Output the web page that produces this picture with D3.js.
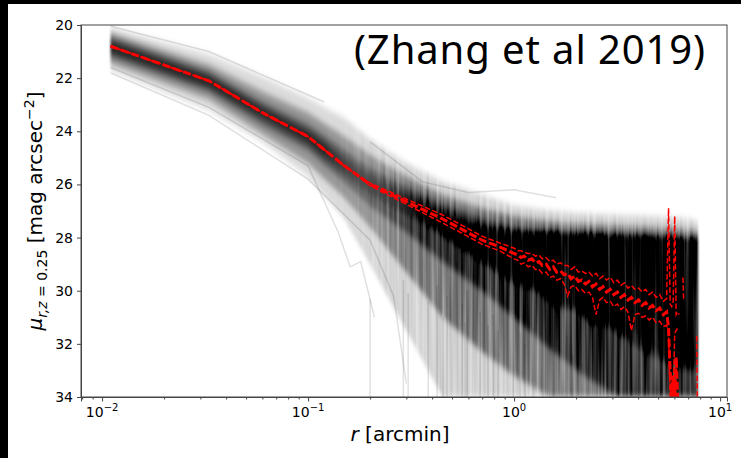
<!DOCTYPE html>
<html>
<head>
<meta charset="utf-8">
<script src="https://cdn.jsdelivr.net/npm/d3@7"></script>
<style>
	body { margin: 0; background: #fff; }
	svg text { font-family: "DejaVu Sans", sans-serif; fill: #000; }
</style>
</head>
<body>
<div id="chart"></div>
<script>

let bandR  = [0.011, 0.033, 0.06, 0.1, 0.15, 0.2, 0.3, 0.45, 0.7, 1.0, 1.5, 2.2, 3.2, 4.5, 6.0, 7.0, 7.8];
// surface brightness of the profiles at those radii (outer envelope and quantiles)
let muMin  = [20.1, 21.1, 21.95, 22.75, 23.5, 24.3, 25.2, 25.9, 26.4, 26.8, 27.0, 27.1, 27.15, 27.2, 27.25, 27.3, 27.4];
let muMax  = [21.7, 23.2, 24.4, 25.7, 27.3, 29.0, 31.5, 34.0, 34.0, 34.0, 34.0, 34.0, 34.0, 34.0, 34.0, 34.0, 34.0];
let muP05  = [20.3, 21.5, 22.5, 23.3, 24.2, 24.9, 25.7, 26.4, 26.9, 27.2, 27.4, 27.5, 27.55, 27.6, 27.65, 27.7, 27.75];
let muP95  = [21.45, 22.8, 24.1, 25.2, 26.5, 27.6, 29.3, 31.0, 32.3, 33.2, 34.0, 34.0, 34.0, 34.0, 34.0, 34.0, 34.0];
let muP16  = [20.45, 21.75, 22.9, 23.75, 24.7, 25.4, 26.1, 26.75, 27.3, 27.6, 27.75, 27.8, 27.85, 27.9, 27.95, 28.0, 28.0];
let muP84  = [21.2, 22.5, 23.75, 24.7, 25.9, 26.8, 27.8, 28.9, 30.0, 31.0, 32.2, 33.2, 34.0, 34.0, 34.0, 34.0, 34.0];
let muP30  = [20.6, 21.9, 23.1, 24.0, 25.0, 25.7, 26.4, 27.0, 27.65, 28.05, 28.3, 28.45, 28.55, 28.6, 28.65, 28.7, 28.8];
let muP70  = [21.05, 22.35, 23.5, 24.45, 25.6, 26.35, 27.1, 27.85, 28.7, 29.4, 30.1, 30.8, 31.6, 32.4, 32.8, 33.0, 33.0];
// crowded part at large radii where the profiles pile up to black
let coreR   = [0.3, 0.45, 0.7, 1.0, 1.3, 1.6, 2.0, 2.4, 2.8, 3.3, 3.8, 4.3, 4.9, 5.5, 6.2, 7.0, 7.8];
let coreTop = [26.7, 27.3, 27.6, 27.8, 27.8, 27.8, 27.85, 27.85, 27.9, 27.9, 27.9, 27.9, 27.95, 27.95, 28.0, 28.0, 28.0];
let coreBot = [26.7, 27.9, 28.9, 29.7, 30.0, 30.6, 30.7, 31.3, 31.0, 31.7, 31.4, 32.1, 32.2, 32.7, 32.4, 32.9, 32.6];

// single noisy profiles that fall off to the bottom (radius, top of the streak)
let streakR   = [0.2, 0.29, 0.306, 0.383, 0.423, 0.452, 0.473, 0.56, 0.578, 0.591, 0.684, 0.748, 0.791, 0.836, 0.99, 1.07, 1.13, 1.24, 1.38, 1.55, 1.81, 1.93];
let streakTop = [30.3, 29.6, 30.1, 30.4, 29.8, 31.0, 30.2, 30.5, 31.2, 30.0, 30.8, 31.3, 30.9, 31.5, 31.0, 31.6, 32.0, 31.4, 31.8, 32.2, 31.7, 32.4];

// a few stray profiles well outside the bulk
let strayA_R  = [0.011, 0.033, 0.12];
let strayA_mu = [20.05, 21.0, 22.9];
let strayB_R  = [0.011, 0.033, 0.1, 0.14, 0.16, 0.18, 0.21];
let strayB_mu = [21.6, 23.1, 25.3, 27.8, 29.1, 28.9, 31.0];
let strayC_R  = [0.2, 0.36, 0.6, 1.0, 1.6];
let strayC_mu = [24.4, 25.9, 26.3, 26.2, 26.5];
let strayD_R  = [0.011, 0.033, 0.1, 0.2, 0.26, 0.3];
let strayD_mu = [21.8, 23.4, 25.8, 28.1, 30.2, 33.5];

// median profile (red) and the dashed lines around it
let redR   = [0.011, 0.033, 0.06, 0.1, 0.15, 0.2, 0.3, 0.45, 0.7, 0.85,
	1.0, 1.04, 1.08, 1.12, 1.17, 1.22, 1.27, 1.32, 1.37, 1.43, 1.49, 1.55, 1.61, 1.68, 1.75, 1.82, 1.89, 1.97,
	2.05, 2.13, 2.22, 2.31, 2.4, 2.5, 2.6, 2.7, 2.81, 2.93, 3.05, 3.17, 3.3, 3.43, 3.57, 3.71, 3.86,
	4.02, 4.18, 4.35, 4.52, 4.7, 4.89, 5.09, 5.3, 5.5, 5.62, 5.72, 5.82, 5.92, 6.02, 6.12, 6.22, 6.32,
	6.45, 6.6, 6.65, 6.8, 7.7, 7.75];
let redMid = [20.8, 22.1, 23.3, 24.2, 25.3, 26.0, 26.65, 27.3, 28.1, 28.35,
	28.6, 28.65, 28.75, 28.7, 28.85, 28.8, 28.95, 28.9, 29.05, 29.0, 29.2, 29.1, 29.3, 29.25, 29.4, 29.35, 29.55, 29.45,
	29.65, 29.6, 29.75, 29.65, 29.85, 29.75, 29.95, 29.85, 30.05, 29.95, 30.15, 30.05, 30.25, 30.15, 30.35, 30.25, 30.45,
	30.35, 30.55, 30.45, 30.65, 30.55, 30.75, 30.65, 30.9, 30.8, 31.4, 33.0, 34.0, 33.2, 34.0, 32.5, 34.0, null,
	null, null, null, null, null, null];
let redLo  = [20.8, 22.1, 23.3, 24.2, 25.3, 25.95, 26.55, 27.15, 27.95, 28.2,
	28.4, 28.5, 28.5, 28.55, 28.6, 28.6, 28.7, 28.65, 28.8, 28.75, 28.9, 28.85, 29.0, 28.95, 29.05, 29.05, 29.2, 29.1,
	29.3, 29.25, 29.35, 29.3, 29.45, 29.35, 29.55, 29.45, 29.6, 29.5, 29.7, 29.6, 29.8, 29.7, 29.9, 29.8, 29.95,
	29.9, 30.05, 29.95, 30.15, 30.05, 30.25, 30.15, 30.4, 30.3, 26.9, 30.5, 30.6, 30.4, 27.2, 30.9, 30.8, 30.9,
	null, 29.5, 30.3, null, 31.7, 34.0];
let redHi  = [20.8, 22.1, 23.3, 24.2, 25.3, 26.05, 26.75, 27.45, 28.25, 28.5,
	28.8, 28.85, 29.0, 28.95, 29.1, 29.05, 29.2, 29.2, 29.35, 29.3, 29.5, 29.45, 29.6, 29.55, 29.75, 30.2, 29.85, 29.8,
	30.0, 29.95, 30.1, 30.05, 30.25, 30.9, 30.35, 30.25, 30.45, 30.4, 30.6, 30.5, 30.7, 30.6, 30.8, 31.5, 30.9,
	30.85, 31.0, 30.95, 31.1, 31.0, 31.2, 31.15, 31.35, 31.3, 31.6, 34.0, 33.5, 34.0, 31.6, 31.5, 31.4, null,
	null, null, null, null, null, null];

let yTicks = [20, 22, 24, 26, 28, 30, 32, 34];
let xTicks = [0.01, 0.1, 1, 10];


let width = 741, height = 458;
let margin = { top: 25, right: 14, bottom: 61, left: 81 };

let svg = d3.select("#chart")
	.append("svg")
	.attr("width", width)
	.attr("height", height);

svg.append("rect").attr("width", width).attr("height", height).attr("fill", "#fff");

let x = d3.scaleLog()
	.domain([0.0079, 10.8])
	.range([margin.left, width - margin.right]);

let y = d3.scaleLinear()
	.domain([20, 34])
	.range([margin.top, height - margin.bottom]);

let defs = svg.append("defs");

defs.append("clipPath").attr("id", "plotclip")
	.append("rect")
	.attr("x", margin.left).attr("y", margin.top)
	.attr("width", width - margin.left - margin.right)
	.attr("height", height - margin.top - margin.bottom);

// soft edges for the bundle at small radii
defs.append("filter").attr("id", "soft")
	.attr("color-interpolation-filters", "sRGB")
	.attr("x", "-5%").attr("y", "-5%").attr("width", "110%").attr("height", "110%")
	.append("feGaussianBlur").attr("stdDeviation", "1.2 3");

// vertical streaky texture where the profiles get noisy
let streaky = defs.append("filter").attr("id", "streaky")
	.attr("color-interpolation-filters", "sRGB")
	.attr("x", "-5%").attr("y", "-5%").attr("width", "110%").attr("height", "110%");
streaky.append("feGaussianBlur").attr("in", "SourceGraphic").attr("stdDeviation", "1.2 3").attr("result", "blur");
streaky.append("feTurbulence")
	.attr("type", "fractalNoise")
	.attr("baseFrequency", "0.3 0.005")
	.attr("numOctaves", 2)
	.attr("seed", 7)
	.attr("result", "noise");
streaky.append("feColorMatrix")
	.attr("in", "noise")
	.attr("type", "matrix")
	.attr("values", "0 0 0 0 0  0 0 0 0 0  0 0 0 0 0  1 0 0 0 0")
	.attr("result", "mask");
// alpha = a * (0.5 + 1.4 m): faint parts get streaky, dense parts stay black
streaky.append("feComposite")
	.attr("in", "blur").attr("in2", "mask")
	.attr("operator", "arithmetic")
	.attr("k1", 1.4).attr("k2", 0.5).attr("k3", 0).attr("k4", 0);

// hand over from the smooth to the streaky look along r
function fade(id, from, to) {
	let g = defs.append("linearGradient").attr("id", id + "g")
		.attr("gradientUnits", "userSpaceOnUse")
		.attr("x1", x(0.12)).attr("x2", x(0.35)).attr("y1", 0).attr("y2", 0);
	g.append("stop").attr("offset", 0).attr("stop-color", from);
	g.append("stop").attr("offset", 1).attr("stop-color", to);
	defs.append("mask").attr("id", id)
		.attr("maskUnits", "userSpaceOnUse")
		.attr("x", 0).attr("y", 0).attr("width", width).attr("height", height)
		.append("rect").attr("width", width).attr("height", height).attr("fill", "url(#" + id + "g)");
}
fade("fadeout", "#fff", "#000");
fade("fadein", "#000", "#fff");

let plot = svg.append("g").attr("clip-path", "url(#plotclip)");

// stacked translucent bands for the cloud of profiles
function band(layer, rs, lo, hi, opacity) {
	let pts = rs.map(function (r, i) { return { r: r, lo: lo[i], hi: hi[i] }; });
	let area = d3.area()
		.x(function (d) { return x(d.r); })
		.y0(function (d) { return y(d.lo); })
		.y1(function (d) { return y(d.hi); });
	layer.append("path")
		.datum(pts)
		.attr("d", area)
		.attr("fill", "#000")
		.attr("fill-opacity", opacity);
}

function cloud(layer) {
	band(layer, bandR, muMin, muMax, 0.14);
	band(layer, bandR, muP05, muP95, 0.32);
	band(layer, bandR, muP16, muP84, 0.42);
	band(layer, bandR, muP30, muP70, 0.55);
	band(layer, coreR, coreTop, coreBot, 0.85);
}

cloud(plot.append("g").attr("mask", "url(#fadeout)").append("g").attr("filter", "url(#soft)"));
cloud(plot.append("g").attr("mask", "url(#fadein)").append("g").attr("filter", "url(#streaky)"));

// vertical streaks from profiles dropping out
plot.append("g")
	.selectAll("line")
	.data(streakR)
	.enter().append("line")
	.attr("x1", function (d) { return x(d); })
	.attr("x2", function (d) { return x(d); })
	.attr("y1", function (d, i) { return y(streakTop[i]); })
	.attr("y2", y(34))
	.attr("stroke", "#000")
	.attr("stroke-opacity", 0.12)
	.attr("stroke-width", 1.5);

let line = d3.line()
	.defined(function (d) { return d.mu != null; })
	.x(function (d) { return x(d.r); })
	.y(function (d) { return y(d.mu); });

function pairs(rs, mus) {
	return rs.map(function (r, i) { return { r: r, mu: mus[i] }; });
}

[[strayA_R, strayA_mu], [strayB_R, strayB_mu], [strayC_R, strayC_mu], [strayD_R, strayD_mu]].forEach(function (p) {
	plot.append("path")
		.datum(pairs(p[0], p[1]))
		.attr("d", line)
		.attr("fill", "none")
		.attr("stroke", "#000")
		.attr("stroke-opacity", 0.12)
		.attr("stroke-width", 1.5);
});

// red dashed median and its spread
[redLo, redHi].forEach(function (s) {
	plot.append("path")
		.datum(pairs(redR, s))
		.attr("d", line)
		.attr("fill", "none")
		.attr("stroke", "red")
		.attr("stroke-width", 1.5)
		.attr("stroke-dasharray", "5.5,2.4");
});

plot.append("path")
	.datum(pairs(redR, redMid))
	.attr("d", line)
	.attr("fill", "none")
	.attr("stroke", "red")
	.attr("stroke-width", 3)
	.attr("stroke-dasharray", "8,3");

// axes
let axisColor = "#444";

svg.append("g")
	.attr("transform", "translate(0," + (height - margin.bottom) + ")")
	.call(d3.axisBottom(x).tickValues(xTicks).tickSize(4.5).tickFormat(""));

let minor = [];
[-3, -2, -1, 0, 1].forEach(function (e) {
	for (let m = 2; m < 10; m++) {
		let v = m * Math.pow(10, e);
		if (v >= x.domain()[0] && v <= x.domain()[1]) minor.push(v);
	}
});

svg.append("g")
	.attr("transform", "translate(0," + (height - margin.bottom) + ")")
	.call(d3.axisBottom(x).tickValues(minor).tickSize(2.5).tickFormat(""))
	.call(function (g) { g.select(".domain").remove(); });

let exps = { 0.01: "\u22122", 0.1: "\u22121", 1: "0", 10: "1" };
xTicks.forEach(function (v) {
	let t = svg.append("text")
		.attr("x", x(v))
		.attr("y", height - margin.bottom + 20)
		.attr("text-anchor", "middle")
		.style("font-size", "14px");
	t.append("tspan").text("10");
	t.append("tspan").attr("dy", -6).style("font-size", "10px").text(exps[v]);
});

let yAxis = svg.append("g")
	.attr("transform", "translate(" + margin.left + ",0)")
	.call(d3.axisLeft(y).tickValues(yTicks).tickSize(4).tickPadding(4))
	.style("font-size", "14px");

svg.selectAll(".domain, .tick line").attr("stroke", axisColor);
yAxis.selectAll("text").attr("font-family", "DejaVu Sans");

// frame
svg.append("rect")
	.attr("x", margin.left).attr("y", margin.top)
	.attr("width", width - margin.left - margin.right)
	.attr("height", height - margin.top - margin.bottom)
	.attr("fill", "none")
	.attr("stroke", axisColor)
	.attr("stroke-width", 1);

// axis labels
let xl = svg.append("text")
	.attr("x", (margin.left + width - margin.right) / 2 - 4)
	.attr("y", height - 17)
	.attr("text-anchor", "middle")
	.style("font-size", "20px");
xl.append("tspan").style("font-style", "italic").text("r");
xl.append("tspan").text(" [arcmin]");

let yl = svg.append("text")
	.attr("transform", "translate(42," + ((margin.top + height - margin.bottom) / 2) + ") rotate(-90)")
	.attr("text-anchor", "middle")
	.style("font-size", "20px");
yl.append("tspan").style("font-style", "italic").text("\u03bc");
yl.append("tspan").attr("dy", 5).style("font-size", "14px").style("font-style", "italic").text("r,z");
yl.append("tspan").style("font-size", "14px").text(" = 0.25");
yl.append("tspan").attr("dy", -5).text(" [mag arcsec");
yl.append("tspan").attr("dy", -8).style("font-size", "14px").text("\u22122");
yl.append("tspan").attr("dy", 8).text("]");

// citation in the corner
svg.append("text")
	.attr("x", 706)
	.attr("y", 64)
	.attr("text-anchor", "end")
	.style("font-family", "'Noto Sans', sans-serif")
	.style("font-size", "40px")
	.style("letter-spacing", "0.9px")
	.text("(Zhang et al 2019)");

// dark strips along the top and left of the picture
svg.append("rect").attr("x", 0).attr("y", 0).attr("width", width).attr("height", 4).attr("fill", "#000");
svg.append("rect").attr("x", 0).attr("y", 0).attr("width", 8).attr("height", height).attr("fill", "#000");

</script>
</body>
</html>
